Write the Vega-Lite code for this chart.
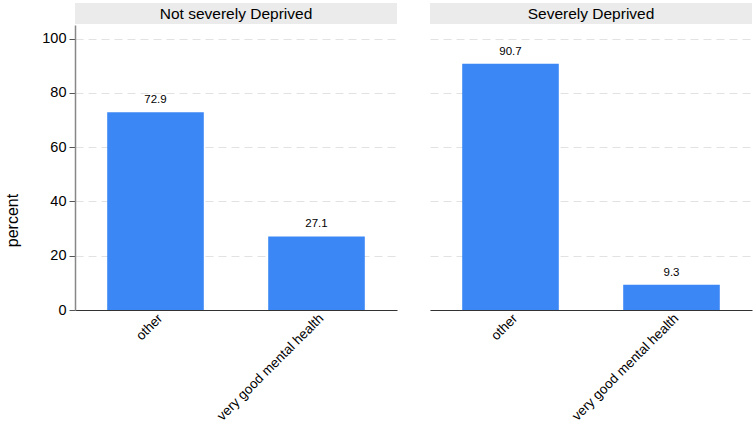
{
  "$schema": "https://vega.github.io/schema/vega-lite/v6.json",
  "padding": {"left": 4, "top": 3, "right": 2, "bottom": 0},
  "background": "white",
  "config": {
    "font": "Liberation Sans",
    "view": {"stroke": null},
    "axis": {"labelFont": "Liberation Sans", "titleFont": "Liberation Sans", "labelColor": "#000", "titleColor": "#000"}
  },
  "data": {
    "values": [
      {"panel": "Not severely Deprived", "category": "other", "percent": 72.9},
      {"panel": "Not severely Deprived", "category": "very good mental health", "percent": 27.1},
      {"panel": "Severely Deprived", "category": "other", "percent": 90.7},
      {"panel": "Severely Deprived", "category": "very good mental health", "percent": 9.3}
    ]
  },
  "spacing": 33,
  "hconcat": [
    {
      "spacing": 1,
      "vconcat": [
        {
          "width": 322,
          "height": 21,
          "view": {"fill": "#ebebeb", "stroke": null},
          "transform": [{"filter": "datum.panel === 'Not severely Deprived' && datum.category === 'other'"}],
          "mark": {"type": "text", "fontSize": 15.5, "font": "Liberation Sans", "color": "#000", "align": "center", "baseline": "middle"},
          "encoding": {"text": {"field": "panel"}}
        },
        {
          "width": 322,
          "height": 285,
          "transform": [{"filter": "datum.panel === 'Not severely Deprived'"}],
          "encoding": {
            "x": {"field": "category", "type": "nominal", "sort": null,
              "scale": {"paddingInner": 0.4, "paddingOuter": 0.2},
              "axis": {"title": null, "labelAngle": -45, "labelFontSize": 13.5, "ticks": false, "labelPadding": 1, "domainColor": "#333", "domainWidth": 1.2, "grid": false}},
            "y": {"field": "percent", "type": "quantitative",
              "scale": {"domain": [0, 105], "nice": false},
              "axis": {"title": "percent", "titleFontSize": 16, "titleFontWeight": "normal", "titleX": -55, "titleY": 195,
                "values": [0, 20, 40, 60, 80, 100], "labelFontSize": 14.5, "tickSize": 6, "labelPadding": 3,
                "tickColor": "#555", "domainColor": "#888", "domainWidth": 1.5,
                "grid": true, "gridColor": "#e2e2e2", "gridDash": [8, 5], "gridWidth": 1}}
          },
          "layer": [
            {"mark": {"type": "bar", "color": "#3b87f6"}},
            {"mark": {"type": "text", "fontSize": 11.5, "baseline": "bottom", "dy": -7, "color": "#000"},
              "encoding": {"text": {"field": "percent", "type": "quantitative", "format": ".1f"}}}
          ]
        }
      ]
    },
    {
      "spacing": 1,
      "vconcat": [
        {
          "width": 322,
          "height": 21,
          "view": {"fill": "#ebebeb", "stroke": null},
          "transform": [{"filter": "datum.panel === 'Severely Deprived' && datum.category === 'other'"}],
          "mark": {"type": "text", "fontSize": 15.5, "font": "Liberation Sans", "color": "#000", "align": "center", "baseline": "middle"},
          "encoding": {"text": {"field": "panel"}}
        },
        {
          "width": 322,
          "height": 285,
          "transform": [{"filter": "datum.panel === 'Severely Deprived'"}],
          "encoding": {
            "x": {"field": "category", "type": "nominal", "sort": null,
              "scale": {"paddingInner": 0.4, "paddingOuter": 0.2},
              "axis": {"title": null, "labelAngle": -45, "labelFontSize": 13.5, "ticks": false, "labelPadding": 1, "domainColor": "#333", "domainWidth": 1.2, "grid": false}},
            "y": {"field": "percent", "type": "quantitative",
              "scale": {"domain": [0, 105], "nice": false},
              "axis": {"title": null, "values": [0, 20, 40, 60, 80, 100], "labels": false, "ticks": false, "domain": false,
                "grid": true, "gridColor": "#e2e2e2", "gridDash": [8, 5], "gridWidth": 1}}
          },
          "layer": [
            {"mark": {"type": "bar", "color": "#3b87f6"}},
            {"mark": {"type": "text", "fontSize": 11.5, "baseline": "bottom", "dy": -7, "color": "#000"},
              "encoding": {"text": {"field": "percent", "type": "quantitative", "format": ".1f"}}}
          ]
        }
      ]
    }
  ]
}
